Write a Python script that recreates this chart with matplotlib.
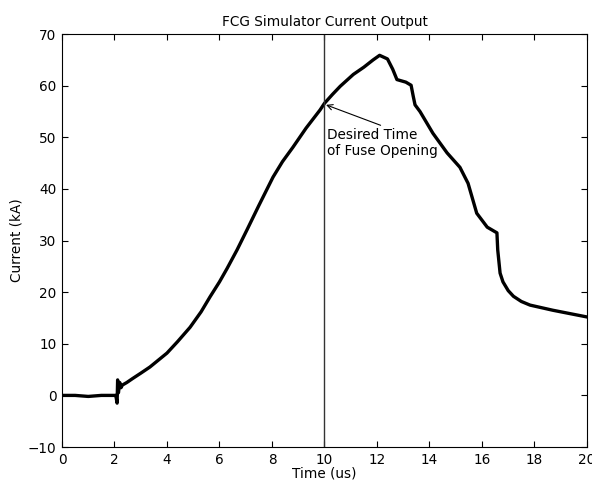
import matplotlib.pyplot as plt

plt.rcParams['font.family'] = ['DejaVu Sans']

# trace (time in us, current in kA)
time_us = [0.0, 0.5, 1.0, 1.5, 2.0, 2.05, 2.1, 2.12, 2.15, 2.2, 2.25, 2.3,
           2.47, 2.7, 3.0, 3.35, 4.0, 4.4, 4.88, 5.3, 5.64, 6.0, 6.29, 6.67,
           7.05, 7.5, 8.04, 8.4, 8.8, 9.3, 9.83, 10.0, 10.3, 10.6, 11.1, 11.5,
           11.85, 12.1, 12.4, 12.6, 12.76, 13.1, 13.3, 13.38, 13.45, 13.64, 14.13,
           14.67, 15.16, 15.47, 15.8, 16.2, 16.57, 16.6, 16.69, 16.8, 17.0, 17.2,
           17.5, 17.83, 18.7, 19.6, 20.0]
current_ka = [0.0, 0.0, -0.2, 0.0, 0.0, 0.0, -1.5, 3.0, 0.5, 2.5, 1.5, 2.0,
              2.5, 3.3, 4.3, 5.5, 8.2, 10.4, 13.2, 16.2, 19.1, 22.0, 24.6, 28.2,
              32.1, 36.8, 42.3, 45.3, 48.1, 51.8, 55.3, 56.6, 58.3, 59.9, 62.2, 63.6,
              65.0, 65.9, 65.2, 63.2, 61.2, 60.7, 60.1, 58.0, 56.3, 55.0, 50.8,
              47.0, 44.2, 41.1, 35.3, 32.6, 31.5, 28.2, 23.7, 22.0, 20.3, 19.2,
              18.2, 17.5, 16.5, 15.6, 15.2]

fuse_time = 10.0
fs = 9.8

fig = plt.figure(figsize=(5.92, 4.88), dpi=100)
ax = fig.add_axes([0.1047, 0.084, 0.8868, 0.846])

ax.plot(time_us, current_ka, color='black', lw=2.4, solid_joinstyle='round')
ax.axvline(fuse_time, color='#333333', lw=1.0)

ax.annotate('Desired Time\nof Fuse Opening', xy=(10.06, 56.3), xytext=(10.1, 51.8),
            fontsize=fs, va='top', ha='left', linespacing=1.15,
            arrowprops=dict(arrowstyle='->', lw=0.8, color='black',
                            shrinkA=0, shrinkB=0, relpos=(0.55, 1.0)))

ax.set_xlim(0, 20)
ax.set_ylim(-10, 70)
ax.set_xticks(range(0, 21, 2))
ax.set_yticks(range(-10, 71, 10))
ax.tick_params(direction='in', top=True, right=True, length=4, labelsize=fs, pad=4)
for s in ax.spines.values():
    s.set_linewidth(0.8)

ax.set_title('FCG Simulator Current Output', fontsize=fs, pad=6)
ax.set_xlabel('Time (us)', fontsize=fs, labelpad=0)
ax.set_ylabel('Current (kA)', fontsize=fs, labelpad=3)

plt.savefig('out.png', dpi=100)
